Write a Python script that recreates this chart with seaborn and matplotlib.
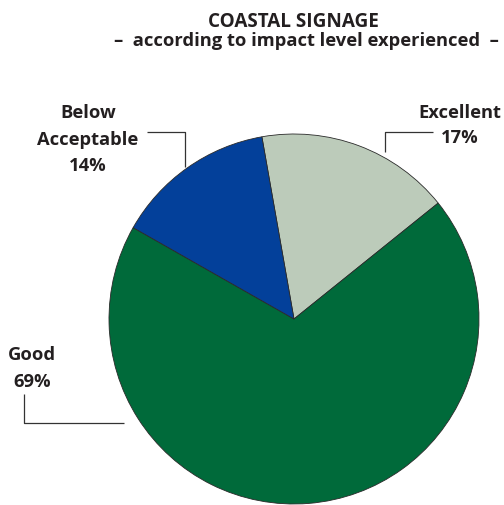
import matplotlib
matplotlib.use("Agg")
import matplotlib.pyplot as plt
import seaborn as sns

# Survey shares by rating
categories = ["Excellent", "Good", "Below\nAcceptable"]
values = [17, 69, 14]
colors = ["#bccbba", "#006a3a", "#03409a"]

title_line1 = "COASTAL SIGNAGE"
title_line2 = "–  according to impact level experienced  –"

sns.set_theme(style="white")
plt.rcParams["font.family"] = ["Open Sans", "DejaVu Sans"]

W, H = 504, 506
fig = plt.figure(figsize=(W / 100, H / 100), dpi=100)
ax = fig.add_axes([0, 0, 1, 1])

def py(y):
    # convert a top-down pixel row into axis units
    return H - y

ax.pie(
    values,
    colors=colors,
    startangle=100,
    counterclock=False,
    center=(294, py(320)),
    radius=185,
    wedgeprops=dict(edgecolor="#2a2a2a", linewidth=0.6),
)
ax.set_xlim(0, W)
ax.set_ylim(0, H)
ax.set_aspect("equal")
ax.axis("off")

txt = "#231f20"
fs = 13.2
fw = "bold"

ax.text(293, py(27), title_line1, ha="center", va="baseline",
        fontsize=13.6, fontweight=fw, color=txt)
ax.text(306, py(46), title_line2, ha="center", va="baseline",
        fontsize=fs, fontweight=fw, color=txt)

# slice labels
label_pos = {
    "Excellent": (460, [118, 143]),
    "Good": (32, [360, 387]),
    "Below\nAcceptable": (88, [118, 145, 171]),
}
for cat, val in zip(categories, values):
    x, baselines = label_pos[cat]
    lines = cat.split("\n") + [f"{val}%"]
    for line, b in zip(lines, baselines):
        ax.text(x, py(b), line, ha="center", va="baseline",
                fontsize=fs, fontweight=fw, color=txt)

# leader lines
lc = dict(color="#333333", linewidth=0.9, solid_capstyle="butt")
ax.plot([147, 185, 185], [py(133), py(133), py(168)], **lc)
ax.plot([433, 385, 385], [py(133), py(133), py(153)], **lc)
ax.plot([24, 24, 124], [py(395), py(424), py(424)], **lc)

fig.savefig("out.png", dpi=100, facecolor="white")
